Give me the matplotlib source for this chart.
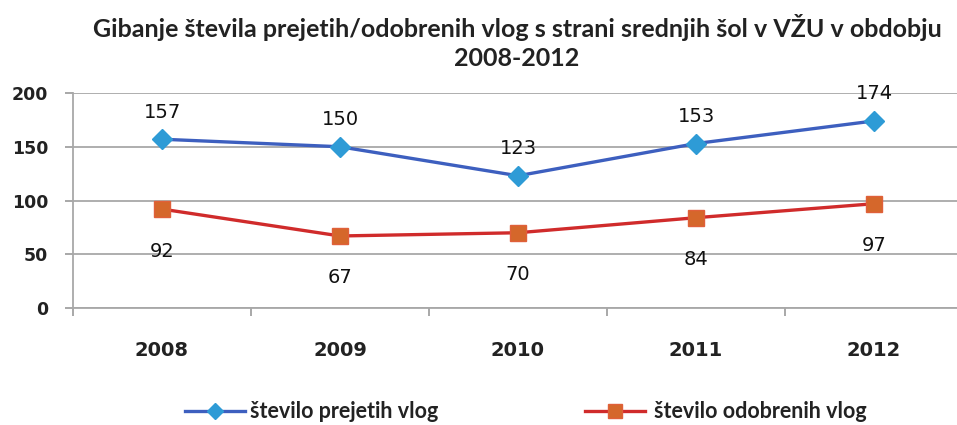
import matplotlib
matplotlib.use("Agg")
import matplotlib.pyplot as plt
from matplotlib.lines import Line2D

years = ["2008", "2009", "2010", "2011", "2012"]
prejete = [157, 150, 123, 153, 174]
odobrene = [92, 67, 70, 84, 97]
yticks = [0, 50, 100, 150, 200]
title = "Gibanje števila prejetih/odobrenih vlog s strani srednjih šol v VŽU v obdobju\n2008-2012"
label_prejete = "število prejetih vlog"
label_odobrene = "število odobrenih vlog"

W, H = 957, 425
fig = plt.figure(figsize=(W / 100, H / 100), dpi=100)
ax = fig.add_axes([73 / W, (H - 308) / H, 890 / W, 215 / H])

blue_line = "#3D5FBF"
blue_mk = "#2E9BD6"
red_line = "#D02B2B"
red_mk = "#D5672B"

x = list(range(len(years)))
ax.plot(x, prejete, color=blue_line, lw=2.4, marker="D", ms=10,
        mfc=blue_mk, mec=blue_mk, zorder=3)
ax.plot(x, odobrene, color=red_line, lw=2.4, marker="s", ms=12,
        mfc=red_mk, mec="#E0603A", zorder=3)

for xi, v in zip(x, prejete):
    ax.annotate(str(v), (xi, v), xytext=(0, 27), textcoords="offset pixels",
                ha="center", va="center", fontsize=14, color="#111111",
                family="DejaVu Sans")
for xi, v in zip(x, odobrene):
    ax.annotate(str(v), (xi, v), xytext=(0, -42), textcoords="offset pixels",
                ha="center", va="center", fontsize=14, color="#111111",
                family="DejaVu Sans")

ax.set_xlim(-0.5, len(years) - 0.5)
ax.set_ylim(0, 200)
ax.set_yticks(yticks)
ax.set_yticklabels([str(t) for t in yticks], fontsize=12.5, fontweight="bold",
                   color="#222222")
ax.set_xticks(x)
ax.set_xticklabels(years, fontsize=14, fontweight="bold", color="#222222")
ax.set_xticks([i + 0.5 for i in range(-1, len(years))], minor=True)
ax.tick_params(axis="x", which="major", length=0, pad=24)
ax.tick_params(axis="x", which="minor", length=6, width=1.2, color="#999999",
               direction="out")
ax.tick_params(axis="y", length=6, width=1.2, color="#999999", pad=12)

ax.grid(axis="y", color="#A8A8A8", lw=1.3)
ax.set_axisbelow(True)
for s in ["top", "right"]:
    ax.spines[s].set_visible(False)
ax.spines["left"].set_color("#A8A8A8")
ax.spines["left"].set_linewidth(1.3)
ax.spines["bottom"].set_color("#A8A8A8")
ax.spines["bottom"].set_linewidth(1.3)

fig.text(517 / W, 1 - 42 / H, title, ha="center", va="center",
         fontsize=18, fontweight="bold", family="Lato", color="#222222",
         linespacing=1.3)

# legend
leg_y = 1 - 411 / H
for (x0, x1, tx, col, mk, mfc, mec, ms, lab) in [
    (185, 245, 250, blue_line, "D", blue_mk, blue_mk, 8, label_prejete),
    (585, 645, 654, red_line, "s", red_mk, "#E0603A", 10, label_odobrene),
]:
    fig.add_artist(Line2D([x0 / W, x1 / W], [leg_y, leg_y], color=col, lw=2.4,
                          transform=fig.transFigure))
    fig.add_artist(Line2D([(x0 + x1) / 2 / W], [leg_y], marker=mk, ms=ms,
                          mfc=mfc, mec=mec, transform=fig.transFigure, lw=0))
    fig.text(tx / W, leg_y, lab, ha="left", va="center", family="Lato",
             fontweight="bold", fontsize=15.5, color="#222222")

fig.savefig("out.png", dpi=100)
